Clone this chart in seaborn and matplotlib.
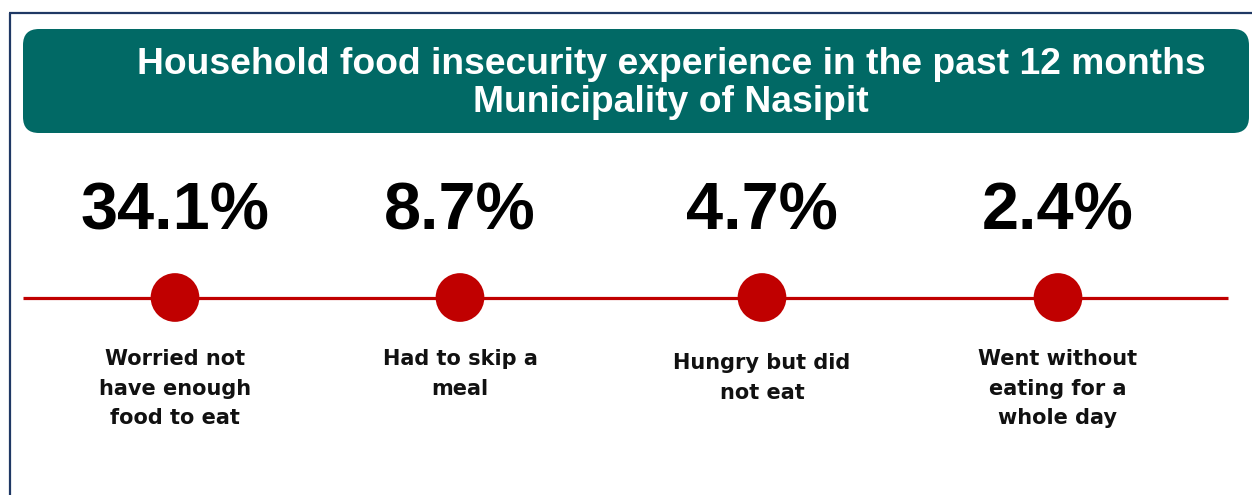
import matplotlib
matplotlib.use("Agg")
import matplotlib.pyplot as plt
from matplotlib.patches import FancyBboxPatch
import seaborn as sns
import pandas as pd

# data
indicators = [
    "Worried not\nhave enough\nfood to eat",
    "Had to skip a\nmeal",
    "Hungry but did\nnot eat",
    "Went without\neating for a\nwhole day",
]
percent = [34.1, 8.7, 4.7, 2.4]
title_lines = [
    "Household food insecurity experience in the past 12 months",
    "Municipality of Nasipit",
]

# layout (pixel space of the 1252x495 canvas)
W, H = 1252, 495
x_pos = [175, 460, 762, 1058]
line_y = 297.5
label_top = [349, 349, 353, 349]

sns.set_theme(style="white")
plt.rcParams["font.family"] = ["Liberation Sans", "DejaVu Sans"]

fig = plt.figure(figsize=(W / 100, H / 100), dpi=100)
ax = fig.add_axes([0, 0, 1, 1])
ax.set_xlim(0, W)
ax.set_ylim(H, 0)
ax.axis("off")

# outer frame (top + left)
navy = "#1F3864"
ax.plot([9, W], [13, 13], color=navy, lw=1.6, solid_capstyle="butt")
ax.plot([9.5, 9.5], [13, H], color=navy, lw=1.6, solid_capstyle="butt")

# title banner
banner = FancyBboxPatch((23, 29), 1226, 104,
                        boxstyle="round,pad=0,rounding_size=16",
                        facecolor="#016965", edgecolor="none")
ax.add_patch(banner)
ax.text(671, 65, title_lines[0], color="white", fontsize=26.8,
        fontweight="bold", ha="center", va="center")
ax.text(671, 103, title_lines[1], color="white", fontsize=26.8,
        fontweight="bold", ha="center", va="center")

# timeline
ax.plot([23, 1228], [line_y, line_y], color="#C00000", lw=2.3,
        solid_capstyle="butt", zorder=1)

df = pd.DataFrame({"indicator": indicators, "percent": percent,
                   "x": x_pos, "y": [line_y] * len(percent)})
sns.scatterplot(data=df, x="x", y="y", ax=ax, s=1230, color="#C00000",
                edgecolor="none", legend=False, zorder=2)
ax.set_xlim(0, W)
ax.set_ylim(H, 0)

for i, row in df.iterrows():
    ax.text(row["x"], 213, f"{row['percent']:.1f}%", fontsize=48,
            fontweight="bold", color="black", ha="center", va="center")
    ax.text(row["x"], label_top[i], row["indicator"], fontsize=15,
            fontweight="bold", color="#111111", ha="center", va="top",
            family="DejaVu Sans", linespacing=1.6)

fig.savefig("out.png", dpi=100, facecolor="white")
